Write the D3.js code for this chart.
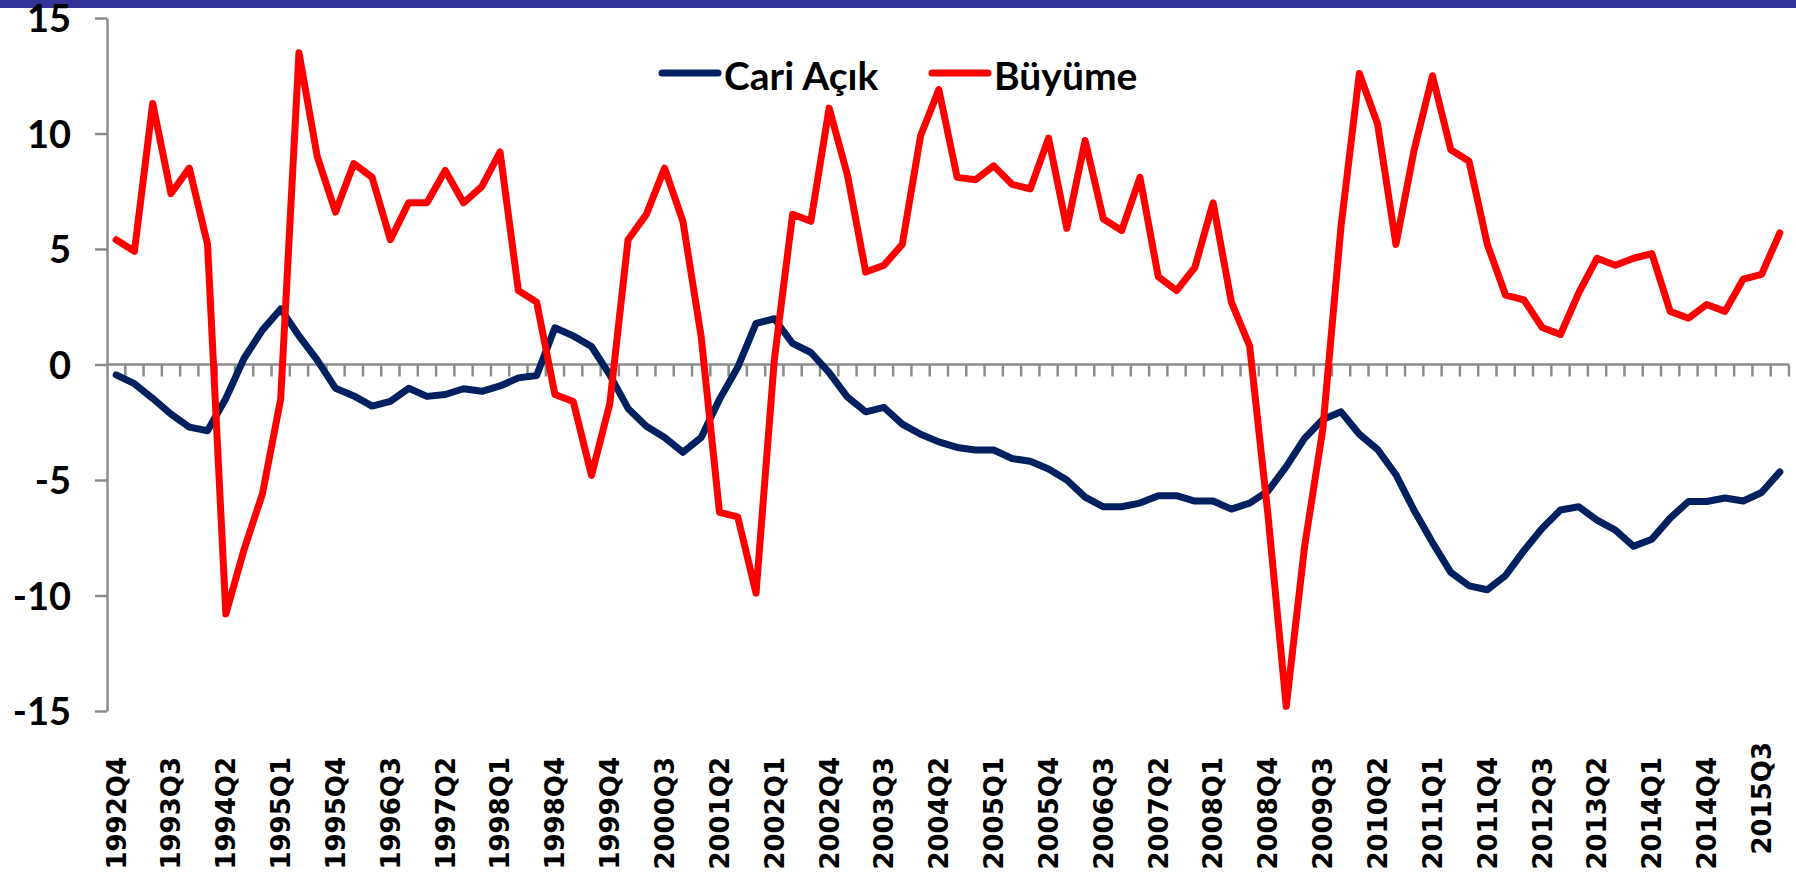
<!DOCTYPE html>
<html>
<head>
<meta charset="utf-8">
<script src="https://cdn.jsdelivr.net/npm/d3@7"></script>
<style>
  body { margin: 0; background: #fff; }
  svg { display: block; }
</style>
</head>
<body>
<div id="vis"></div>
<script>
// Quarter labels (the source skips one quarter in 1999)
const quarters = [
    '1992Q4',
    '1993Q1', '1993Q2', '1993Q3', '1993Q4',
    '1994Q1', '1994Q2', '1994Q3', '1994Q4',
    '1995Q1', '1995Q2', '1995Q3', '1995Q4',
    '1996Q1', '1996Q2', '1996Q3', '1996Q4',
    '1997Q1', '1997Q2', '1997Q3', '1997Q4',
    '1998Q1', '1998Q2', '1998Q3', '1998Q4',
    '1999Q2', '1999Q3', '1999Q4',
    '2000Q1', '2000Q2', '2000Q3', '2000Q4',
    '2001Q1', '2001Q2', '2001Q3', '2001Q4',
    '2002Q1', '2002Q2', '2002Q3', '2002Q4',
    '2003Q1', '2003Q2', '2003Q3', '2003Q4',
    '2004Q1', '2004Q2', '2004Q3', '2004Q4',
    '2005Q1', '2005Q2', '2005Q3', '2005Q4',
    '2006Q1', '2006Q2', '2006Q3', '2006Q4',
    '2007Q1', '2007Q2', '2007Q3', '2007Q4',
    '2008Q1', '2008Q2', '2008Q3', '2008Q4',
    '2009Q1', '2009Q2', '2009Q3', '2009Q4',
    '2010Q1', '2010Q2', '2010Q3', '2010Q4',
    '2011Q1', '2011Q2', '2011Q3', '2011Q4',
    '2012Q1', '2012Q2', '2012Q3', '2012Q4',
    '2013Q1', '2013Q2', '2013Q3', '2013Q4',
    '2014Q1', '2014Q2', '2014Q3', '2014Q4',
    '2015Q1', '2015Q2', '2015Q3', '2015Q4'
];

// Cari Açık (current account balance, % of GDP)
const cariAcik = [
    -0.45, -0.83, -1.47, -2.15, -2.71, -2.87, -1.47, 0.27, 1.49, 2.40,
    1.24, 0.19, -1.03, -1.36, -1.80, -1.60, -1.03, -1.38, -1.30, -1.05,
    -1.16, -0.93, -0.58, -0.48, 1.59, 1.24, 0.78, -0.45, -1.90, -2.67,
    -3.16, -3.80, -3.16, -1.51, -0.12, 1.78, 1.98, 0.91, 0.52, -0.35,
    -1.41, -2.05, -1.86, -2.58, -3.02, -3.35, -3.59, -3.70, -3.70, -4.07,
    -4.19, -4.52, -5.00, -5.74, -6.16, -6.16, -6.00, -5.68, -5.68, -5.91,
    -5.91, -6.26, -6.00, -5.48, -4.42, -3.20, -2.38, -2.05, -3.02, -3.68,
    -4.77, -6.32, -7.71, -9.00, -9.58, -9.75, -9.13, -8.06, -7.09, -6.30,
    -6.16, -6.74, -7.17, -7.87, -7.56, -6.65, -5.93, -5.93, -5.78, -5.91,
    -5.54, -4.65
];

// Büyüme (GDP growth, %)
const buyume = [
    5.4, 4.9, 11.3, 7.4, 8.5, 5.2, -10.8, -8.0, -5.6, -1.5,
    13.5, 9.0, 6.6, 8.7, 8.1, 5.4, 7.0, 7.0, 8.4, 7.0,
    7.7, 9.2, 3.2, 2.7, -1.3, -1.6, -4.8, -1.7, 5.4, 6.5,
    8.5, 6.2, 1.2, -6.4, -6.6, -9.9, 0.2, 6.5, 6.2, 11.1,
    8.2, 4.0, 4.3, 5.2, 9.9, 11.9, 8.1, 8.0, 8.6, 7.8,
    7.6, 9.8, 5.9, 9.7, 6.3, 5.8, 8.1, 3.8, 3.2, 4.2,
    7.0, 2.7, 0.8, -6.5, -14.8, -7.9, -2.8, 6.0, 12.6, 10.4,
    5.2, 9.3, 12.5, 9.3, 8.8, 5.2, 3.0, 2.8, 1.6, 1.3,
    3.1, 4.6, 4.3, 4.6, 4.8, 2.3, 2.0, 2.6, 2.3, 3.7,
    3.9, 5.7
];

const yTicks = [-15, -10, -5, 0, 5, 10, 15];
const seriesNames = ['Cari Açık', 'Büyüme'];
const seriesColors = ['#002060', '#ff0000'];

const W = 1796, H = 880;
const plot = { left: 107, right: 1789, top: 18, bottom: 711 };
const axisGray = '#8c8c8c';

const svg = d3.select('#vis')
    .append('svg')
    .attr('width', W)
    .attr('height', H);

// top banner strip
svg.append('rect')
    .attr('x', 0).attr('y', 0)
    .attr('width', W).attr('height', 8)
    .attr('fill', '#333399');

const x = d3.scaleBand()
    .domain(quarters)
    .range([plot.left, plot.right])
    .padding(0);

const y = d3.scaleLinear()
    .domain([-15, 15])
    .range([plot.bottom, plot.top]);

// y axis (plain hyphen for negatives, like the original)
const yAxis = svg.append('g')
    .attr('transform', `translate(${plot.left},0)`)
    .call(d3.axisLeft(y)
        .tickValues(yTicks)
        .tickFormat(d => String(d))
        .tickSize(12)
        .tickSizeOuter(0)
        .tickPadding(24));
yAxis.select('.domain').attr('stroke', axisGray).attr('stroke-width', 2.5);
yAxis.selectAll('.tick line').attr('stroke', axisGray).attr('stroke-width', 2.5);
yAxis.selectAll('.tick text')
    .attr('fill', '#000')
    .attr('dy', '0.36em')
    .style('font-family', 'Lato, "Open Sans", sans-serif')
    .style('font-weight', 'bold')
    .style('font-size', '38px');

// category axis at zero, ticks between categories
const y0 = y(0);
svg.append('line')
    .attr('x1', plot.left).attr('x2', plot.right)
    .attr('y1', y0).attr('y2', y0)
    .attr('stroke', axisGray).attr('stroke-width', 2.5);

svg.append('g')
    .selectAll('line')
    .data(quarters.slice(1).concat(['end']))
    .join('line')
    .attr('x1', d => d === 'end' ? plot.right : x(d))
    .attr('x2', d => d === 'end' ? plot.right : x(d))
    .attr('y1', y0)
    .attr('y2', y0 + 12)
    .attr('stroke', axisGray)
    .attr('stroke-width', 2.5);

// category labels, every third quarter
const labelQuarters = quarters.filter((d, i) => i % 3 === 0);
const xLabels = svg.append('g')
    .attr('transform', 'translate(0,757)')
    .call(d3.axisBottom(x).tickValues(labelQuarters).tickSize(0));
xLabels.select('.domain').remove();
xLabels.selectAll('.tick text')
    .attr('transform', 'rotate(-90)')
    .attr('x', (d, i) => i === labelQuarters.length - 1 ? 15 : 0)
    .attr('y', 0)
    .attr('dy', '0.36em')
    .attr('text-anchor', 'end')
    .attr('fill', '#000')
    .style('font-family', '"DejaVu Sans", Verdana, sans-serif')
    .style('font-weight', 'bold')
    .style('font-size', '26px');

// series lines
const line = d3.line()
    .x((d, i) => x(quarters[i]) + x.bandwidth() / 2)
    .y(d => y(d));

[cariAcik, buyume].forEach((values, k) => {
    svg.append('path')
        .datum(values)
        .attr('fill', 'none')
        .attr('stroke', seriesColors[k])
        .attr('stroke-width', 7)
        .attr('stroke-linejoin', 'round')
        .attr('stroke-linecap', 'round')
        .attr('d', line);
});

// legend
const legendX = [662, 932];
const legend = svg.append('g');
seriesNames.forEach((name, k) => {
    legend.append('line')
        .attr('x1', legendX[k]).attr('x2', legendX[k] + 56)
        .attr('y1', 73).attr('y2', 73)
        .attr('stroke', seriesColors[k])
        .attr('stroke-width', 7)
        .attr('stroke-linecap', 'round');
    legend.append('text')
        .attr('x', legendX[k] + 62)
        .attr('y', 90)
        .attr('fill', '#000')
        .style('font-family', 'Lato, "Open Sans", sans-serif')
        .style('font-weight', 'bold')
        .style('font-size', '39px')
        .text(name);
});
</script>
</body>
</html>
